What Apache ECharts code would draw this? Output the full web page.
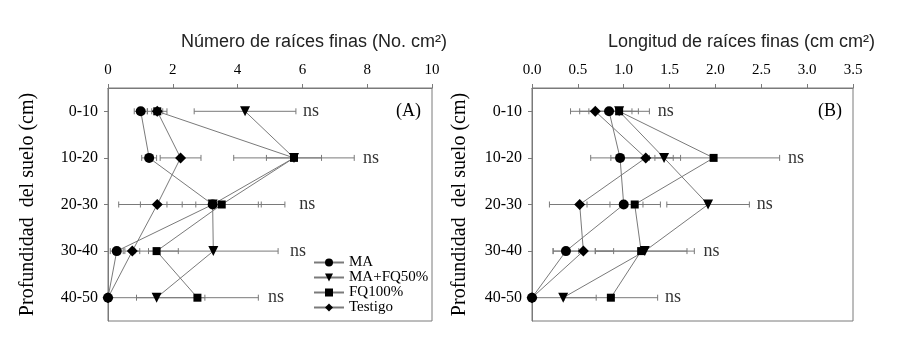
<!DOCTYPE html>
<html>
<head>
<meta charset="utf-8">
<script src="https://cdn.jsdelivr.net/npm/echarts@6/dist/echarts.min.js"></script>
<style>
  html, body { margin: 0; padding: 0; background: #fff; }
  #chart { width: 900px; height: 359px; }
</style>
</head>
<body>
<div id="chart"></div>
<script>
// soil depth classes, top to bottom
const depths = ['0-10', '10-20', '20-30', '30-40', '40-50'];
const treatments = ['MA', 'MA+FQ50%', 'FQ100%', 'Testigo'];

// (A) number of fine roots, mean and half-width of error bar
const numMA = [1.01, 1.27, 3.23, 0.27, 0];
const numMAErr = [0.2, 0.23, 1.41, 0.2, 0];
const numFQ50 = [4.23, 5.74, 3.23, 3.25, 1.5];
const numFQ50Err = [1.57, 0.85, 2.23, 2.0, 1.49];
const numFQ100 = [1.52, 5.74, 3.51, 1.5, 2.76];
const numFQ100Err = [0.3, 1.86, 1.22, 0.67, 1.88];
const numTestigo = [1.52, 2.24, 1.52, 0.75, 0];
const numTestigoErr = [0.17, 0.63, 1.19, 0.23, 0];
const numNs = [6.02, 7.87, 5.9, 5.62, 4.94];

// (B) fine root length
const lenMA = [0.84, 0.96, 1.0, 0.37, 0];
const lenMAErr = [0.32, 0.32, 0.4, 0.14, 0];
const lenFQ50 = [0.95, 1.44, 1.92, 1.23, 0.34];
const lenFQ50Err = [0.33, 0.1, 0.45, 0.54, 0.36];
const lenFQ100 = [0.95, 1.98, 1.12, 1.19, 0.86];
const lenFQ100Err = [0.14, 0.72, 0.09, 0.5, 0.51];
const lenTestigo = [0.69, 1.24, 0.52, 0.56, 0];
const lenTestigoErr = [0.27, 0.38, 0.33, 0.33, 0];
const lenNs = [1.37, 2.79, 2.45, 1.87, 1.45];

const serif = '"Liberation Serif", "DejaVu Serif", serif';
const sans = '"Liberation Sans", Arial, sans-serif';
const gray = '#7a7a7a';

const symbols = [
  {symbol: 'circle', symbolSize: 10, symbolRotate: 0},
  {symbol: 'triangle', symbolSize: 10, symbolRotate: 180},
  {symbol: 'rect', symbolSize: 8, symbolRotate: 0},
  {symbol: 'diamond', symbolSize: 11, symbolRotate: 0}
];

function lineSeries(name, vals, idx, panel) {
  return {
    name: name,
    type: 'line',
    xAxisIndex: panel,
    yAxisIndex: panel,
    data: vals.map((v, i) => [v, depths[i]]),
    symbol: symbols[idx].symbol,
    symbolSize: symbols[idx].symbolSize,
    symbolRotate: symbols[idx].symbolRotate,
    itemStyle: {color: '#000'},
    lineStyle: {color: gray, width: 1},
    z: 3
  };
}

function errorSeries(groups, panel) {
  let data = [];
  for (let g of groups) {
    g.vals.forEach((v, i) => {
      if (g.err[i] > 0) data.push([v - g.err[i], v + g.err[i], i]);
    });
  }
  return {
    type: 'custom',
    xAxisIndex: panel,
    yAxisIndex: panel,
    data: data,
    encode: {x: [0, 1], y: 2},
    silent: true,
    z: 1,
    renderItem: (params, api) => {
      const a = api.coord([api.value(0), api.value(2)]);
      const b = api.coord([api.value(1), api.value(2)]);
      const style = {stroke: gray, lineWidth: 1};
      return {
        type: 'group',
        children: [
          {type: 'line', shape: {x1: a[0], y1: a[1], x2: b[0], y2: a[1]}, style: style},
          {type: 'line', shape: {x1: a[0], y1: a[1] - 3, x2: a[0], y2: a[1] + 3}, style: style},
          {type: 'line', shape: {x1: b[0], y1: b[1] - 3, x2: b[0], y2: b[1] + 3}, style: style}
        ]
      };
    }
  };
}

function nsSeries(vals, panel) {
  return {
    type: 'scatter',
    xAxisIndex: panel,
    yAxisIndex: panel,
    data: vals.map((v, i) => [v, depths[i]]),
    symbolSize: 0,
    silent: true,
    label: {
      show: true,
      position: 'right',
      distance: 0,
      formatter: 'ns',
      fontFamily: serif,
      fontSize: 18,
      color: '#000'
    }
  };
}

function xAxis(panel, max, interval, fmt) {
  return {
    gridIndex: panel,
    type: 'value',
    position: 'top',
    min: 0,
    max: max,
    interval: interval,
    axisLine: {show: true, lineStyle: {color: gray}},
    axisTick: {show: true, length: 4, lineStyle: {color: gray}},
    splitLine: {show: false},
    axisLabel: {fontFamily: serif, fontSize: 15, color: '#000', margin: 10, formatter: fmt}
  };
}

function yAxis(panel, gap) {
  return {
    gridIndex: panel,
    type: 'category',
    data: depths,
    inverse: true,
    name: 'Profundidad  del suelo (cm)',
    nameLocation: 'middle',
    nameGap: gap,
    nameTextStyle: {fontFamily: serif, fontSize: 20, color: '#000'},
    axisLine: {show: true, lineStyle: {color: gray}},
    axisTick: {show: true, alignWithLabel: true, length: 4, lineStyle: {color: gray}},
    axisLabel: {fontFamily: serif, fontSize: 16, color: '#000', margin: 10}
  };
}

const numGroups = [
  {vals: numMA, err: numMAErr}, {vals: numFQ50, err: numFQ50Err},
  {vals: numFQ100, err: numFQ100Err}, {vals: numTestigo, err: numTestigoErr}
];
const lenGroups = [
  {vals: lenMA, err: lenMAErr}, {vals: lenFQ50, err: lenFQ50Err},
  {vals: lenFQ100, err: lenFQ100Err}, {vals: lenTestigo, err: lenTestigoErr}
];

const chart = echarts.init(document.getElementById('chart'));
chart.setOption({
  animation: false,
  backgroundColor: '#fff',
  title: [
    {text: 'Número de raíces finas (No. cm²)', right: 453, top: 33, padding: 0,
      textStyle: {fontFamily: sans, fontSize: 18, fontWeight: 'normal', color: '#222'}},
    {text: 'Longitud de raíces finas (cm cm²)', right: 25, top: 33, padding: 0,
      textStyle: {fontFamily: sans, fontSize: 18, fontWeight: 'normal', color: '#222'}},
    {text: '(A)', right: 479, top: 102, padding: 0,
      textStyle: {fontFamily: serif, fontSize: 18, fontWeight: 'normal', color: '#000'}},
    {text: '(B)', right: 58, top: 102, padding: 0,
      textStyle: {fontFamily: serif, fontSize: 18, fontWeight: 'normal', color: '#000'}}
  ],
  legend: {
    orient: 'vertical',
    left: 313,
    top: 255,
    itemWidth: 30,
    itemHeight: 10,
    itemGap: 0,
    padding: 0,
    data: treatments,
    textStyle: {fontFamily: serif, fontSize: 15, lineHeight: 14, color: '#000'}
  },
  grid: [
    {left: 108, top: 88, width: 324, height: 233, show: true, borderColor: gray, borderWidth: 1},
    {left: 532, top: 88, width: 321, height: 233, show: true, borderColor: gray, borderWidth: 1}
  ],
  xAxis: [
    xAxis(0, 10, 2),
    xAxis(1, 3.5, 0.5, v => v.toFixed(1))
  ],
  yAxis: [yAxis(0, 70), yAxis(1, 62)],
  series: [
    errorSeries(numGroups, 0),
    errorSeries(lenGroups, 1),
    lineSeries(treatments[0], numMA, 0, 0),
    lineSeries(treatments[1], numFQ50, 1, 0),
    lineSeries(treatments[2], numFQ100, 2, 0),
    lineSeries(treatments[3], numTestigo, 3, 0),
    lineSeries(treatments[0], lenMA, 0, 1),
    lineSeries(treatments[1], lenFQ50, 1, 1),
    lineSeries(treatments[2], lenFQ100, 2, 1),
    lineSeries(treatments[3], lenTestigo, 3, 1),
    nsSeries(numNs, 0),
    nsSeries(lenNs, 1)
  ]
});
</script>
</body>
</html>
